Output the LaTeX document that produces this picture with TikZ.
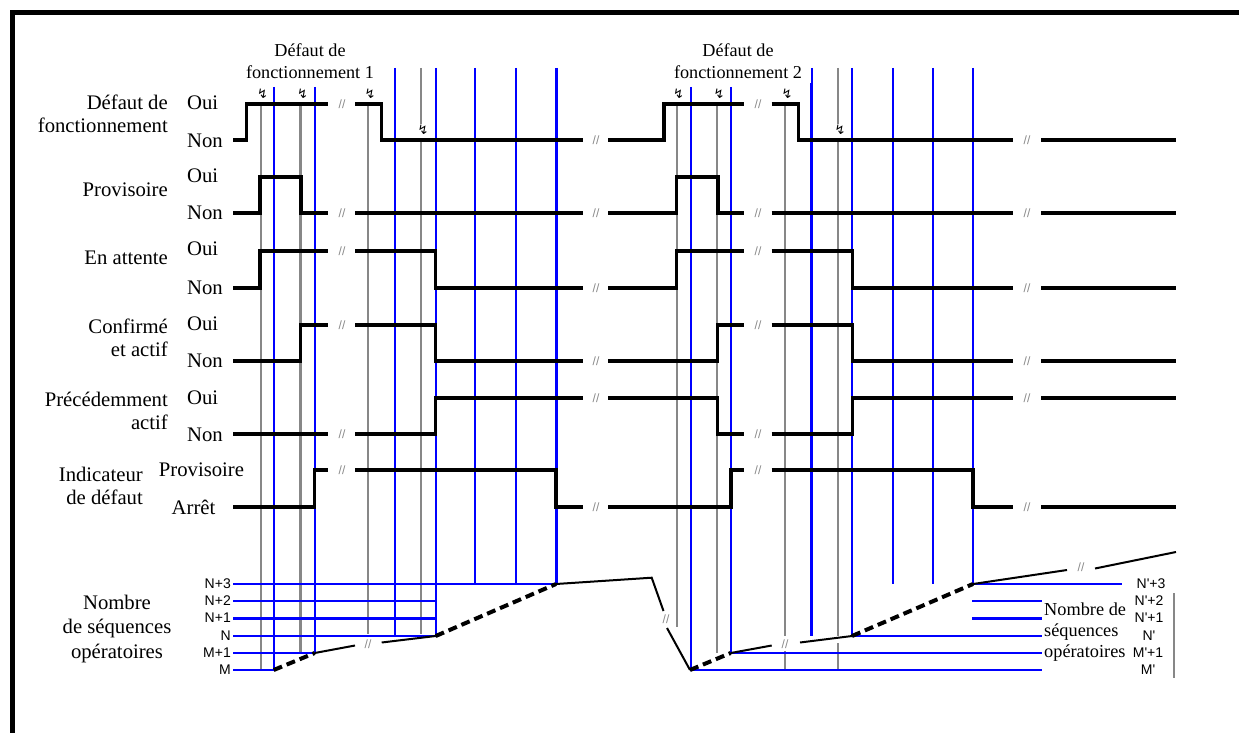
\documentclass[tikz,border=0pt]{standalone}
\usepackage{fontspec}
\setmainfont{Liberation Serif}
\newfontfamily\labsans{Liberation Sans}
\newfontfamily\symfont{DejaVu Sans}
\definecolor{vblue}{RGB}{0,0,255}
\definecolor{vgrey}{RGB}{135,135,135}
\begin{document}
\begin{tikzpicture}[x=1pt,y=-1pt,
  sig/.style={line width=3.5pt,black,line cap=butt,line join=miter},
  bl/.style={vblue,line width=2pt},
  blthick/.style={vblue,line width=3pt},
  gr/.style={vgrey,line width=2.2pt},
  grthick/.style={vgrey,line width=3pt},
  cnt/.style={black,line width=2pt},
  cntdash/.style={black,line width=4pt,dash pattern=on 9pt off 5pt},
  brk/.style={text=vgrey,font=\labsans\fontsize{12}{12}\selectfont,inner sep=0pt},
  bolt/.style={font=\symfont\fontsize{13}{13}\selectfont,inner sep=0pt},
  biglab/.style={font=\fontsize{20.7}{23}\selectfont,inner sep=0pt},
  headlab/.style={font=\fontsize{18.2}{21.5}\selectfont,inner sep=0pt,align=center},
  levlab/.style={font=\labsans\fontsize{14}{14}\selectfont,inner sep=0pt}]
\useasboundingbox (0,0) rectangle (1239,733);

% frame (top and left edges)
\draw[line width=5pt] (12.5,733) -- (12.5,12.5) -- (1239,12.5);

% ---------- grey event lines ----------
\draw[gr] (260.7,104) -- (260.7,670);
\draw[grthick] (300.7,104) -- (300.7,653);
\draw[gr] (368.3,104) -- (368.3,634);
\draw[gr] (421,68) -- (421,124) (421,140) -- (421,634);
\draw[gr] (676.7,104) -- (676.7,627);
\draw[gr] (717,104) -- (717,653);
\draw[gr] (785,104) -- (785,636) (785,651) -- (785,670);
\draw[gr] (838.3,68) -- (838.3,124) (838.3,140) -- (838.3,636) (838.3,643) -- (838.3,670);

% ---------- blue sequence lines ----------
\draw[bl] (273.7,87) -- (273.7,670);
\draw[bl] (314.7,87) -- (314.7,653);
\draw[bl] (395,68) -- (395,636);
\draw[bl] (435.7,68) -- (435.7,636);
\draw[bl] (475.3,68) -- (475.3,584);
\draw[bl] (516,68) -- (516,584);
\draw[blthick] (556,68) -- (556,584);
\draw[bl] (691,87) -- (691,670);
\draw[bl] (730.7,87) -- (730.7,653);
\draw[bl] (811.7,68) -- (811.7,636);
\draw[blthick] (811.7,83) -- (811.7,636);
\draw[bl] (852,68) -- (852,636);
\draw[bl] (892.7,68) -- (892.7,584);
\draw[bl] (933,68) -- (933,584);
\draw[bl] (973,68) -- (973,584);

% counter levels, first fault
\draw[bl] (233,584) -- (557,584);
\draw[bl] (233,601) -- (436.7,601);
\draw[blthick] (233,618) -- (436.7,618);
\draw[bl] (233,636) -- (436.7,636);
\draw[bl] (233,653) -- (315.7,653);
\draw[bl] (233,670) -- (274.7,670);
% counter levels, second fault
\draw[bl] (690,670) -- (1042,670);
\draw[bl] (729.7,653) -- (1042,653);
\draw[bl] (851,636) -- (1042,636);
\draw[blthick] (972,618) -- (1042,618);
\draw[bl] (972,601) -- (1042,601);
\draw[bl] (972,584) -- (1122,584);
\draw[gr] (1174.3,593) -- (1174.3,678);

% ---------- status signals ----------
% Défaut de fonctionnement
\draw[sig] (233,140) -| (246.7,104) -- (327.7,104);
\draw[sig] (355,104) -| (381.7,140) -- (583,140);
\draw[sig] (608,140) -| (664,104) -- (744.4,104);
\draw[sig] (771.7,104) -| (798.4,140) -- (1013,140);
\draw[sig] (1041,140) -- (1176,140);
% Provisoire
\draw[sig] (233,213) -| (259.8,177) -| (301.2,213) -- (327.7,213);
\draw[sig] (355,213) -- (583,213);
\draw[sig] (608,213) -| (676.5,177) -| (718,213) -- (744.4,213);
\draw[sig] (771.7,213) -- (1013,213);
\draw[sig] (1041,213) -- (1176,213);
% En attente
\draw[sig] (233,288) -| (259.8,251) -- (327.7,251);
\draw[sig] (355,251) -| (435.7,288) -- (583,288);
\draw[sig] (608,288) -| (676.5,251) -- (744.4,251);
\draw[sig] (771.7,251) -| (852.4,288) -- (1013,288);
\draw[sig] (1041,288) -- (1176,288);
% Confirmé et actif
\draw[sig] (233,361) -| (300.7,325) -- (327.7,325);
\draw[sig] (355,325) -| (435.7,361) -- (583,361);
\draw[sig] (608,361) -| (717.4,325) -- (744.4,325);
\draw[sig] (771.7,325) -| (852.4,361) -- (1013,361);
\draw[sig] (1041,361) -- (1176,361);
% Précédemment actif
\draw[sig] (233,434) -- (327.7,434);
\draw[sig] (355,434) -| (435.7,398) -- (583,398);
\draw[sig] (608,398) -| (717.4,434) -- (744.4,434);
\draw[sig] (771.7,434) -| (852.4,398) -- (1013,398);
\draw[sig] (1041,398) -- (1176,398);
% Indicateur de défaut
\draw[sig] (233,507) -| (314.3,470) -- (327.7,470);
\draw[sig] (355,470) -| (556,507) -- (583,507);
\draw[sig] (608,507) -| (731,470) -- (744.4,470);
\draw[sig] (771.7,470) -| (973,507) -- (1013,507);
\draw[sig] (1041,507) -- (1176,507);

% time breaks on the signals
\foreach \x/\ya/\yb/\yc/\yd in {104/140/104/140, 213/213/213/213, 251/288/251/288,
                                325/361/325/361, 434/398/434/398, 470/507/470/507} {
  \node[brk] at (342,\x) {//};
  \node[brk] at (596,\ya) {//};
  \node[brk] at (758,\yb) {//};
  \node[brk] at (1027,\yc) {//};
}

% fault occurrences
\node[bolt] (f1) at (262.5,94) {↯};
\node[bolt] (f2) at (302.5,94) {↯};
\node[bolt] (f3) at (370,94) {↯};
\node[bolt] (f4) at (423,130) {↯};
\node[bolt] (f5) at (678.5,94) {↯};
\node[bolt] (f6) at (719,94) {↯};
\node[bolt] (f7) at (787,94) {↯};
\node[bolt] (f8) at (840,130) {↯};

% ---------- operating sequence counter ----------
\draw[cntdash] (273.7,670) -- (314.7,653);
\draw[cnt] (314.7,653) -- (355,645.5);
\node[brk] (c1) at (368,644) {//};
\draw[cnt] (381.7,642.5) -- (435.7,636);
\draw[cntdash] (435.7,636) -- (556,584);
\draw[cnt] (556,584) -- (651.7,577.7) -- (663.5,611);
\node[brk] (c2) at (666,619) {//};
\draw[cnt] (667,628) -- (690,670);
\draw[cntdash] (690,670) -- (730.7,653);
\draw[cnt] (730.7,653) -- (771.7,645.5);
\node[brk] (c3) at (785,644) {//};
\draw[cnt] (800,642.5) -- (852,636);
\draw[cntdash] (852,636) -- (973,584);
\draw[cnt] (973,584) -- (1067,570);
\node[brk] (c4) at (1081,567) {//};
\draw[cnt] (1095,568.5) -- (1176,552);

% ---------- texts ----------
\node[headlab] (h1) at (310,61) {Défaut de\\fonctionnement 1};
\node[headlab] (h2) at (738,61) {Défaut de\\fonctionnement 2};

\node[biglab,align=right,anchor=east] (l1) at (168,114) {Défaut de\\fonctionnement};
\node[biglab,anchor=east] (l2) at (168,190) {Provisoire};
\node[biglab,anchor=east] (l3) at (168,258) {En attente};
\node[biglab,align=right,anchor=east] (l4) at (168,338) {Confirmé\\et actif};
\node[biglab,align=right,anchor=east] (l5) at (168,411) {Précédemment\\actif};
\node[biglab,align=right,anchor=east] (l6) at (143,486) {Indicateur\\de défaut};
\node[biglab,align=center,font=\fontsize{20.7}{24.5}\selectfont] (l7) at (117,629) {Nombre\\de séquences\\opératoires};

\node[biglab,anchor=west] (o1) at (187,103) {Oui};
\node[biglab,anchor=west] (n1) at (187,141) {Non};
\node[biglab,anchor=west] (o2) at (187,176) {Oui};
\node[biglab,anchor=west] (n2) at (187,213) {Non};
\node[biglab,anchor=west] (o3) at (187,249) {Oui};
\node[biglab,anchor=west] (n3) at (187,288) {Non};
\node[biglab,anchor=west] (o4) at (187,324) {Oui};
\node[biglab,anchor=west] (n4) at (187,361) {Non};
\node[biglab,anchor=west] (o5) at (187,398) {Oui};
\node[biglab,anchor=west] (n5) at (187,435) {Non};
\node[biglab] (p6) at (201.5,470) {Provisoire};
\node[biglab] (a6) at (193.5,507) {Arrêt};

\node[levlab,anchor=east] (m5) at (231,584) {N+3};
\node[levlab,anchor=east] (m4) at (231,601) {N+2};
\node[levlab,anchor=east] (m3) at (231,618) {N+1};
\node[levlab,anchor=east] (m2) at (231,636) {N};
\node[levlab,anchor=east] (m1) at (231,653) {M+1};
\node[levlab,anchor=east] (m0) at (231,670) {M};

\node[levlab] (r5) at (1151,584) {N'+3};
\node[levlab] (r4) at (1149,601) {N'+2};
\node[levlab] (r3) at (1149,618) {N'+1};
\node[levlab] (r2) at (1149,636) {N'};
\node[levlab] (r1) at (1148,653) {M'+1};
\node[levlab] (r0) at (1148,670) {M'};
\node[headlab,align=left,anchor=west,font=\fontsize{18.3}{21}\selectfont] (rl) at (1044,632) {Nombre de\\séquences\\opératoires};
\end{tikzpicture}
\end{document}
